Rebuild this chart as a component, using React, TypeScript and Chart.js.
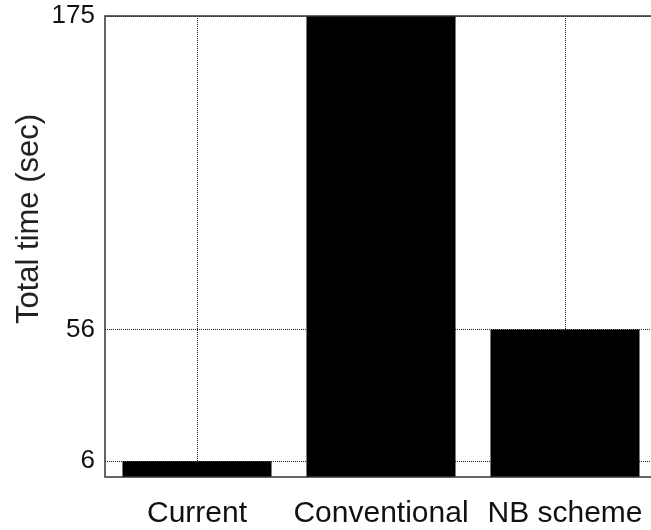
import React, { useEffect, useRef } from "react";
import { Chart, registerables } from "chart.js";

Chart.register(...registerables);

const categories = ["Current", "Conventional", "NB scheme"];
const totalTime = [6, 175, 56];
const yTicks = [6, 56, 175];
const yTitle = "Total time (sec)";

const FONT = "'Liberation Sans', Arial, sans-serif";

const framePlugin = {
  id: "frameAndTitle",
  afterDraw(chart: any) {
    const { ctx, chartArea } = chart;
    ctx.save();
    ctx.strokeStyle = "#333";
    ctx.lineWidth = 1.5;
    ctx.strokeRect(chartArea.left, chartArea.top, chartArea.right - chartArea.left, chartArea.bottom - chartArea.top);
    ctx.translate(29, 219);
    ctx.rotate(-Math.PI / 2);
    ctx.fillStyle = "#222";
    ctx.font = `31px ${FONT}`;
    ctx.textAlign = "center";
    ctx.textBaseline = "middle";
    ctx.fillText(yTitle, 0, 0);
    ctx.restore();
  },
};

export default function App() {
  const ref = useRef<HTMLCanvasElement>(null);
  useEffect(() => {
    if (!ref.current) return;
    const chart = new Chart(ref.current, {
      type: "bar",
      data: {
        labels: categories,
        datasets: [
          {
            data: totalTime,
            backgroundColor: "#000",
            borderWidth: 0,
            barPercentage: 0.81,
            categoryPercentage: 1,
          },
        ],
      },
      options: {
        responsive: false,
        animation: false,
        devicePixelRatio: 1,
        layout: { padding: { top: 16, right: 3, left: 0, bottom: 0 } },
        plugins: { legend: { display: false }, tooltip: { enabled: false } },
        scales: {
          x: {
            grid: {
              offset: false,
              color: "#222",
              lineWidth: 1,
              drawTicks: false,
            } as any,
            border: { display: false, dash: [1, 1] },
            ticks: { color: "#111", font: { family: FONT, size: 30 }, padding: 19, maxRotation: 0, autoSkip: false },
            afterFit: (s: any) => { s.height = 53; s.paddingLeft = 0; s.paddingRight = 0; },
          },
          y: {
            min: 0,
            max: 175,
            grid: { color: "#222", lineWidth: 1, drawTicks: false },
            border: { display: false, dash: [1, 1] },
            ticks: { color: "#111", font: { family: FONT, size: 26 }, padding: 10 },
            afterBuildTicks: (s: any) => { s.ticks = yTicks.map((v) => ({ value: v })); },
            afterFit: (s: any) => { s.width = 105; s.paddingTop = 0; s.paddingBottom = 0; },
          },
        },
      },
      plugins: [framePlugin],
    });
    return () => chart.destroy();
  }, []);
  return (
    <div style={{ position: "fixed", left: 0, top: 0, width: 651, height: 530, overflow: "hidden", background: "#fff" }}>
      <canvas ref={ref} width={660} height={530} style={{ display: "block" }} />
    </div>
  );
}
